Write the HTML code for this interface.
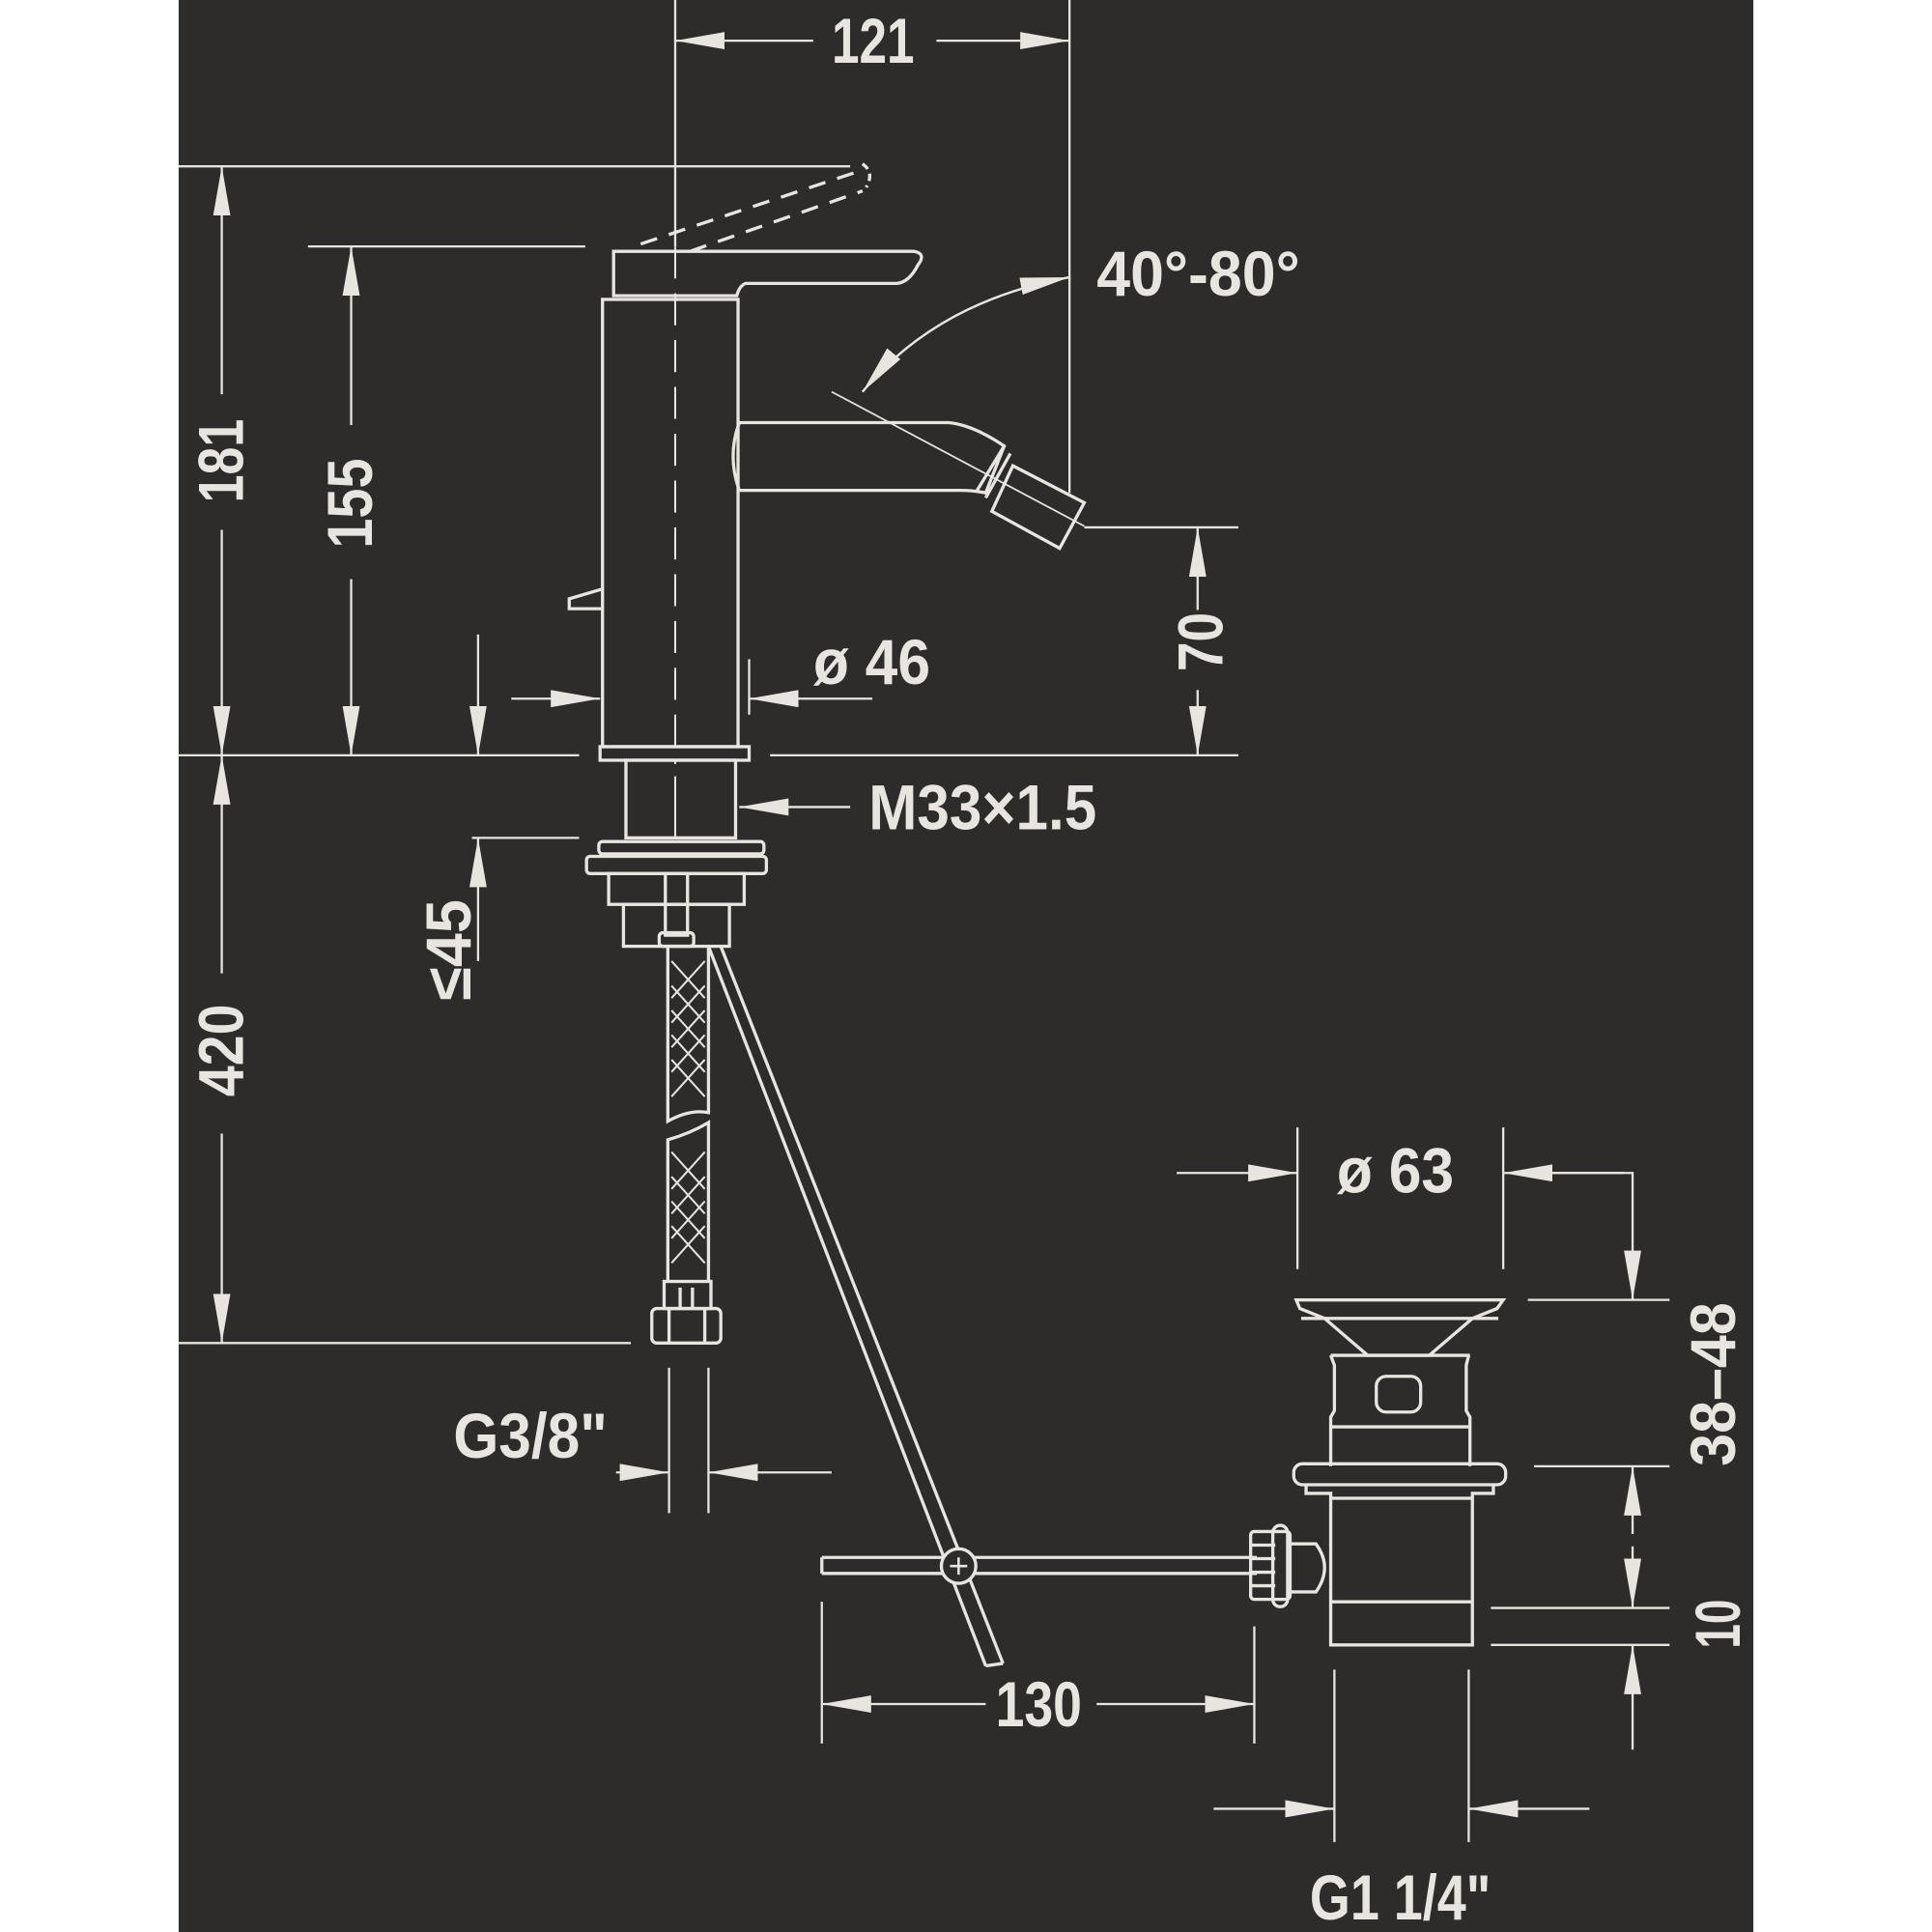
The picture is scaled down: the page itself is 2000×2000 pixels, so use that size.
<!DOCTYPE html>
<html><head><meta charset="utf-8"><style>
html,body{margin:0;padding:0;background:#fff;}
svg{display:block;}
text{font-family:"Liberation Sans Narrow","Liberation Sans",sans-serif;font-weight:bold;fill:#e8e4e0;font-size:52px;}
</style></head><body>
<svg width="2000" height="2000" viewBox="0 0 1568 1568" xmlns="http://www.w3.org/2000/svg">
<defs>
<marker id="a" markerWidth="40" markerHeight="14" refX="40" refY="7" orient="auto" markerUnits="userSpaceOnUse"><path d="M0,0 L40,7 L0,14z" fill="#e8e4e0"/></marker>
</defs>
<rect x="0" y="0" width="1568" height="1568" fill="#fff"/>
<rect x="145" y="0" width="1278" height="1568" fill="#2e2c2b"/>
<g stroke="#e8e4e0" stroke-width="1.8" fill="none">
<line x1="548" y1="0" x2="548" y2="200"/>
<line x1="868" y1="0" x2="868" y2="400"/>
<line x1="660" y1="33" x2="548" y2="33" marker-end="url(#a)"/>
<line x1="760" y1="33" x2="868" y2="33" marker-end="url(#a)"/>
<line x1="145" y1="135" x2="690" y2="135"/>
<line x1="250" y1="200" x2="475" y2="200"/>
<line x1="180" y1="320" x2="180" y2="135" marker-end="url(#a)"/>
<line x1="180" y1="430" x2="180" y2="613" marker-end="url(#a)"/>
<line x1="285" y1="345" x2="285" y2="200" marker-end="url(#a)"/>
<line x1="285" y1="470" x2="285" y2="613" marker-end="url(#a)"/>
<line x1="145" y1="613" x2="470" y2="613"/>
<line x1="625" y1="613" x2="1005" y2="613"/>
<line x1="388" y1="515" x2="388" y2="613" marker-end="url(#a)"/>
<line x1="415" y1="567" x2="487" y2="567" marker-end="url(#a)"/>
<line x1="708" y1="567" x2="608" y2="567" marker-end="url(#a)"/>
<line x1="608" y1="535" x2="608" y2="580"/>
<line x1="880" y1="428" x2="1005" y2="428"/>
<line x1="972" y1="495" x2="972" y2="428" marker-end="url(#a)"/>
<line x1="972" y1="560" x2="972" y2="613" marker-end="url(#a)"/>
<path d="M700,318 Q760,245 868,225" marker-end="url(#a)"/>
<path d="M868,225 Q760,245 700,318" marker-end="url(#a)"/>
<line x1="675" y1="318" x2="880" y2="427" stroke-width="1.4"/>
</g>
<g stroke="#e8e4e0" stroke-width="2.6" fill="none">
<path d="M520,198 L700,138 M560,204 L700,155" stroke-dasharray="14,10"/>
<path d="M700,133 Q710,140 703,152" stroke-dasharray="6,4"/>
<path d="M498,204 L742,204 Q752,206 745,215 Q738,229 728,230 L605,230 Q600,232 598,240 L498,240 Z"/>
<rect x="489" y="243" width="110" height="363"/>
<line x1="548" y1="200" x2="548" y2="620" stroke-width="1.6" stroke-dasharray="26,12"/>
<path d="M489,478 L462,486 L462,494 L489,494"/>
<path d="M600,343 L770,343 Q790,345 815,362 L800,400 Q790,398 780,398 L600,398 Q590,370 600,343"/>
<path d="M815,362 L793,398 M820,368 L800,404"/>
<path d="M822,378 L880,408 L860,445 L805,415 Z"/>
<rect x="487" y="606" width="121" height="11"/>
<rect x="508" y="617" width="89" height="63"/>
<line x1="548" y1="630" x2="548" y2="680" stroke-width="1.6"/>
<rect x="486" y="683" width="134" height="10" rx="3"/>
<rect x="476" y="695" width="146" height="14" rx="3"/>
<rect x="494" y="709" width="110" height="25"/>
<rect x="506" y="734" width="86" height="34"/>
<rect x="540" y="709" width="18" height="50"/>
<rect x="535" y="757" width="28" height="11" rx="3"/>
<path d="M542,768 L542,910 Q560,900 575,903 L575,768"/>
<path d="M542,1040 L542,925 Q560,920 575,911 L575,1040"/>
<path d="M545,780 L572,810 M545,800 L572,830 M545,820 L572,850 M545,840 L572,870 M545,860 L572,890 M572,780 L545,810 M572,800 L545,830 M572,820 L545,850 M572,840 L545,870 M572,860 L545,890 M545,935 L572,965 M545,955 L572,985 M545,975 L572,1005 M545,995 L572,1025 M572,935 L545,965 M572,955 L545,985 M572,975 L545,1005 M572,995 L545,1025" stroke-width="1.6"/>
<rect x="539" y="1040" width="38" height="22"/>
<line x1="552" y1="1045" x2="552" y2="1062"/><line x1="562" y1="1045" x2="562" y2="1062"/>
<rect x="529" y="1062" width="56" height="28" rx="4"/>
<line x1="543" y1="1062" x2="543" y2="1090"/><line x1="572" y1="1062" x2="572" y2="1090"/>
<line x1="575" y1="768" x2="800" y2="1352"/>
<line x1="585" y1="768" x2="814" y2="1350"/>
<line x1="800" y1="1352" x2="814" y2="1350"/>
<path d="M667,1264 L1020,1264 M667,1277 L1020,1277 M667,1264 L667,1277"/>
<circle cx="778" cy="1271" r="14" fill="#2e2c2b"/>
<path d="M771,1271 L785,1271 M778,1264 L778,1278" stroke-width="2"/>
<path d="M1052,1055 L1220,1055 L1215,1062 L1195,1070 L1160,1100 L1110,1100 L1075,1070 L1055,1062 Z"/>
<line x1="1056" y1="1070" x2="1216" y2="1070"/>
<path d="M1080,1100 L1083,1108 L1083,1145 L1080,1150 L1080,1190 M1192,1100 L1190,1108 L1190,1145 L1193,1150 L1193,1190"/>
<line x1="1080" y1="1100" x2="1193" y2="1100"/>
<line x1="1080" y1="1158" x2="1193" y2="1158"/>
<rect x="1117" y="1117" width="36" height="29" rx="8"/>
<rect x="1050" y="1188" width="172" height="17" rx="7"/>
<path d="M1060,1205 L1060,1212 L1080,1212 L1080,1335 L1195,1335 L1195,1212 L1212,1212 L1212,1205"/>
<line x1="1080" y1="1216" x2="1195" y2="1216"/>
<line x1="1080" y1="1300" x2="1195" y2="1300"/>
<rect x="1015" y="1243" width="32" height="55" rx="3"/>
<line x1="1015" y1="1254" x2="1035" y2="1254"/><line x1="1015" y1="1265" x2="1035" y2="1265"/><line x1="1015" y1="1276" x2="1035" y2="1276"/><line x1="1015" y1="1287" x2="1035" y2="1287"/>
<rect x="1033" y="1238" width="12" height="66" rx="6"/>
<path d="M1045,1253 L1068,1253 Q1082,1272 1068,1292 L1045,1292"/>
</g>
<g stroke="#e8e4e0" stroke-width="1.8" fill="none">
<line x1="690" y1="655" x2="600" y2="655" marker-end="url(#a)"/>
<line x1="383" y1="680" x2="470" y2="680"/>
<line x1="388" y1="780" x2="388" y2="680" marker-end="url(#a)"/>
<line x1="180" y1="790" x2="180" y2="613" marker-end="url(#a)"/>
<line x1="180" y1="920" x2="180" y2="1090" marker-end="url(#a)"/>
<line x1="145" y1="1090" x2="512" y2="1090"/>
<line x1="543" y1="1110" x2="543" y2="1228"/>
<line x1="575" y1="1110" x2="575" y2="1228"/>
<line x1="500" y1="1195" x2="543" y2="1195" marker-end="url(#a)"/>
<line x1="675" y1="1195" x2="575" y2="1195" marker-end="url(#a)"/>
<line x1="667" y1="1300" x2="667" y2="1415"/>
<line x1="1018" y1="1320" x2="1018" y2="1415"/>
<line x1="800" y1="1383" x2="667" y2="1383" marker-end="url(#a)"/>
<line x1="890" y1="1383" x2="1018" y2="1383" marker-end="url(#a)"/>
<line x1="1053" y1="915" x2="1053" y2="1030"/>
<line x1="1220" y1="915" x2="1220" y2="1030"/>
<line x1="955" y1="952" x2="1053" y2="952" marker-end="url(#a)"/>
<line x1="1318" y1="952" x2="1220" y2="952" marker-end="url(#a)"/>
<line x1="1240" y1="1055" x2="1355" y2="1055"/>
<line x1="1245" y1="1190" x2="1355" y2="1190"/>
<line x1="1210" y1="1305" x2="1355" y2="1305"/>
<line x1="1210" y1="1335" x2="1355" y2="1335"/>
<path d="M1225,952 L1325,952 L1325,1055" marker-end="url(#a)"/>
<line x1="1325" y1="1245" x2="1325" y2="1190" marker-end="url(#a)"/>
<line x1="1325" y1="1255" x2="1325" y2="1305" marker-end="url(#a)"/>
<line x1="1325" y1="1420" x2="1325" y2="1335" marker-end="url(#a)"/>
<line x1="1083" y1="1355" x2="1083" y2="1495"/>
<line x1="1192" y1="1355" x2="1192" y2="1495"/>
<line x1="985" y1="1468" x2="1083" y2="1468" marker-end="url(#a)"/>
<line x1="1290" y1="1468" x2="1192" y2="1468" marker-end="url(#a)"/>
</g>
<text x="675" y="51" textLength="67" lengthAdjust="spacingAndGlyphs">121</text>
<text x="890" y="240" textLength="165" lengthAdjust="spacingAndGlyphs">40°-80°</text>
<text x="660" y="555" textLength="95" lengthAdjust="spacingAndGlyphs">ø 46</text>
<text x="705" y="673" textLength="185" lengthAdjust="spacingAndGlyphs">M33×1.5</text>
<text x="368" y="1183" textLength="125" lengthAdjust="spacingAndGlyphs">G3/8"</text>
<text x="808" y="1401" textLength="70" lengthAdjust="spacingAndGlyphs">130</text>
<text x="1085" y="968" textLength="95" lengthAdjust="spacingAndGlyphs">ø 63</text>
<text x="1063" y="1558" textLength="147" lengthAdjust="spacingAndGlyphs">G1 1/4"</text>
<text transform="translate(197,408) rotate(-90)" textLength="68" lengthAdjust="spacingAndGlyphs">181</text>
<text transform="translate(302,445) rotate(-90)" textLength="73" lengthAdjust="spacingAndGlyphs">155</text>
<text transform="translate(197,890) rotate(-90)" textLength="75" lengthAdjust="spacingAndGlyphs">420</text>
<text transform="translate(382,812) rotate(-90)" textLength="82" lengthAdjust="spacingAndGlyphs">≤45</text>
<text transform="translate(992,545) rotate(-90)" textLength="48" lengthAdjust="spacingAndGlyphs">70</text>
<text transform="translate(1408,1190) rotate(-90)" textLength="133" lengthAdjust="spacingAndGlyphs">38–48</text>
<text transform="translate(1412,1338) rotate(-90)" textLength="40" lengthAdjust="spacingAndGlyphs">10</text>
</svg>
</body></html>
